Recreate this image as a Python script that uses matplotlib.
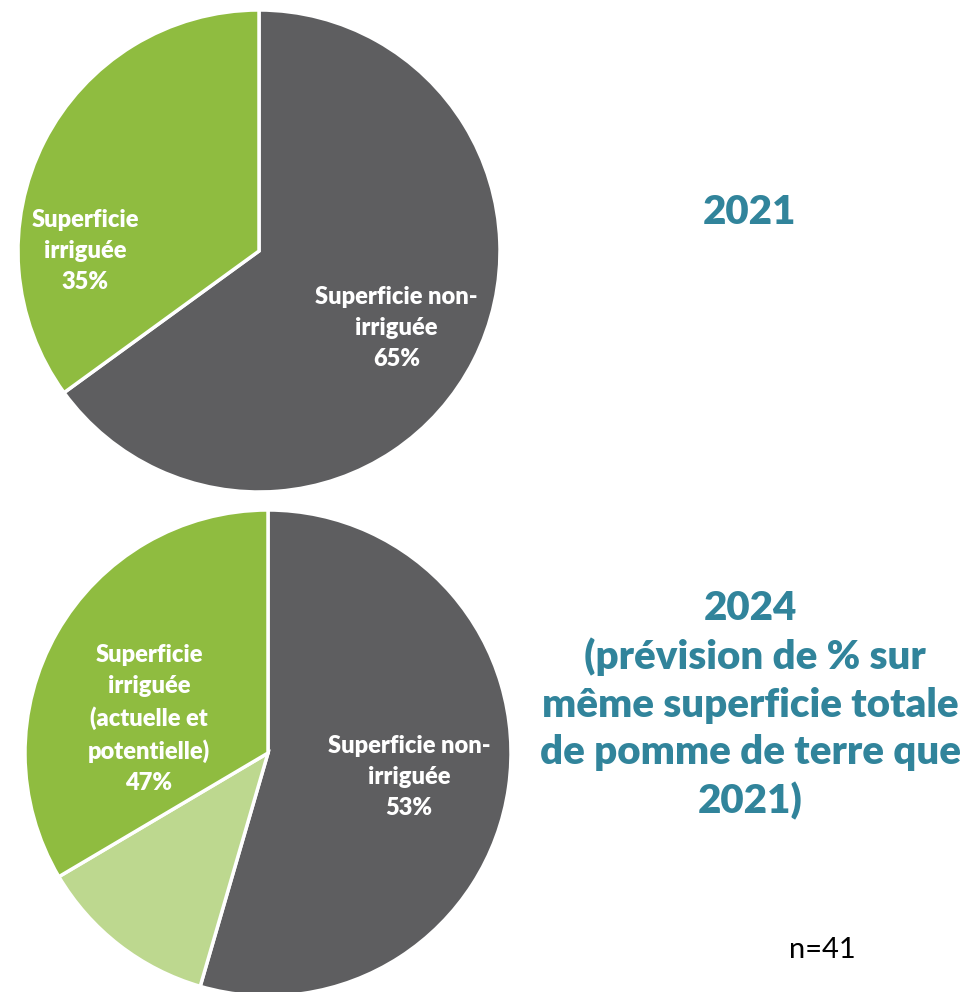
import matplotlib.pyplot as plt

plt.rcParams['font.family'] = ['Lato', 'DejaVu Sans']

# 2021 shares (%), clockwise from 12 o'clock
labels_2021 = ["Superficie non-\nirriguée\n65%", "Superficie\nirriguée\n35%"]
values_2021 = [65, 35]
colors_2021 = ["#5E5E60", "#8FBC40"]

# 2024 shares (%), clockwise from 12 o'clock
labels_2024 = ["Superficie non-\nirriguée\n53%", "",
               "Superficie\nirriguée\n(actuelle et\npotentielle)\n47%"]
values_2024 = [54.5, 12, 33.5]
colors_2024 = ["#5E5E60", "#BDD88F", "#8FBC40"]

teal = "#31849B"
W, H = 965, 992
dpi = 100

fig = plt.figure(figsize=(W / dpi, H / dpi), dpi=dpi)


def pie_axes(cx, cy, r):
    # axes placed in pixel coordinates (origin top-left)
    return fig.add_axes([(cx - r) / W, 1 - (cy + r) / H, 2 * r / W, 2 * r / H])


def finish(ax):
    ax.set_xlim(-1, 1)
    ax.set_ylim(-1, 1)
    ax.axis('off')


lab = dict(color='white', fontsize=17, fontweight='heavy', ha='center',
           va='center', linespacing=1.5)

ax1 = pie_axes(259, 251, 241)
ax1.pie(values_2021, colors=colors_2021, startangle=90, counterclock=False,
        radius=1, wedgeprops=dict(edgecolor='white', linewidth=2.5))
finish(ax1)
ax1.text(0.57, -0.32, labels_2021[0], **lab)
ax1.text(-0.72, 0.0, labels_2021[1], **lab)

ax2 = pie_axes(268, 753, 243)
ax2.pie(values_2024, colors=colors_2024, startangle=90, counterclock=False,
        radius=1, wedgeprops=dict(edgecolor='white', linewidth=2.5))
finish(ax2)
ax2.text(0.58, -0.10, labels_2024[0], **lab)
ax2.text(-0.49, 0.14, labels_2024[2], **lab)

fig.text(750 / W, 1 - 213 / H, "2021", color=teal, fontsize=29, fontweight='heavy',
         ha='center', va='center')
fig.text(750 / W, 1 - 705 / H,
         "2024\n (prévision de % sur\nmême superficie totale\nde pomme de terre que\n2021)",
         color=teal, fontsize=29, fontweight='heavy', ha='center', va='center',
         linespacing=1.35)
fig.text(822 / W, 1 - 950 / H, "n=41", color='black', fontsize=21,
         ha='center', va='center')

fig.savefig("out.png", dpi=dpi, facecolor='white')
plt.close(fig)
